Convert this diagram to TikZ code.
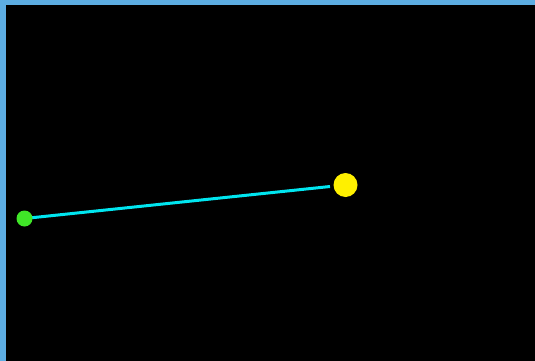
\documentclass[tikz,border=0pt]{standalone}
\definecolor{frame}{RGB}{93,173,226}
\definecolor{ball}{RGB}{64,230,40}
\definecolor{sun}{RGB}{255,240,0}
\definecolor{rope}{RGB}{0,230,240}
\begin{document}
\begin{tikzpicture}[x=1pt,y=-1pt,line width=3pt]
\useasboundingbox (0,0) rectangle (535,361);
\fill[frame] (0,0) rectangle (535,361);
\fill[black] (6,5) rectangle (535,361);
\coordinate (g) at (24.5,218.5); \coordinate (y) at (345.5,185);
\coordinate (t) at (330,186.5);
\draw[rope] (g)--(t);
\fill[ball] (g) circle (8);
\fill[sun] (y) circle (12);
\end{tikzpicture}
\end{document}
